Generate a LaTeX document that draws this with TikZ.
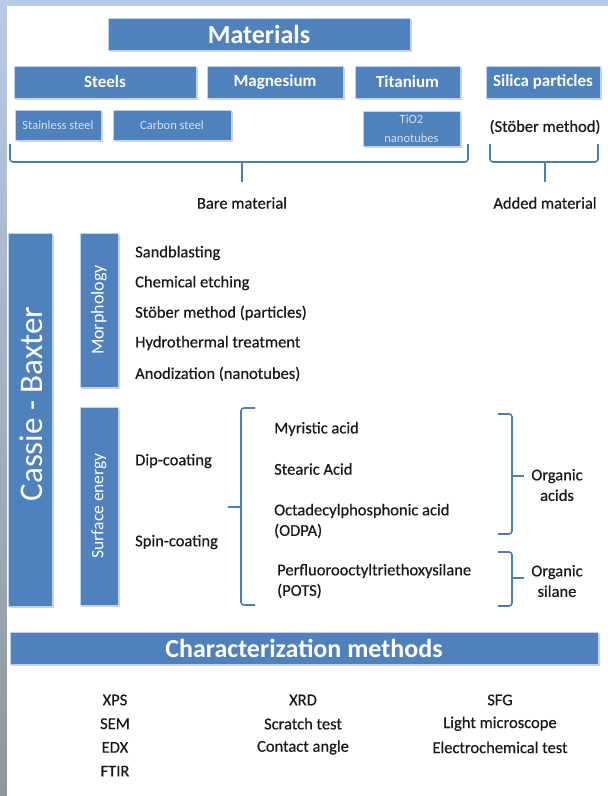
\documentclass[tikz,border=0pt]{standalone}
\usepackage{fontspec}
\setmainfont{Carlito}
\newfontfamily\semifont{Carlito}[FakeBold=0.45]
\usetikzlibrary{shadows}
\definecolor{boxblue}{HTML}{4F81BD}
\definecolor{brblue}{HTML}{4A7EBB}
\definecolor{frameblue}{HTML}{B9CAE6}
\definecolor{framegray}{HTML}{8E979E}
\definecolor{fadetext}{HTML}{D5E0EE}
\begin{document}
\begin{tikzpicture}[x=1pt, y=-1pt,
        BX/.style = {draw=white!65!boxblue, line width=0.8pt, fill=boxblue,
                     text=white, inner sep=0pt, align=center,
                     font=\bfseries\fontsize{17}{20}\selectfont,
                     drop shadow={opacity=0.35, shadow xshift=1.5pt, shadow yshift=-2pt}},
        SB/.style = {BX, font=\fontsize{12.5}{14}\selectfont, text=fadetext},
        VT/.style = {rotate=90, text=white, inner sep=0pt},
        BR/.style = {draw=brblue, line width=1.6pt, rounded corners=3pt},
       txt/.style = {inner sep=0pt, text=black!90, font=\semifont\fontsize{16.5}{20.5}\selectfont},
        IT/.style = {txt, anchor=west, align=left}
                                ]
        % frame
        \useasboundingbox (0,0) rectangle (608,796);
        \fill[frameblue] (0,0) rectangle (608,796);
        \shade[top color=frameblue, bottom color=framegray] (0,0) rectangle (7,796);
        \fill[white] (7,6) rectangle (608,796);

        % materials
        \node[BX, minimum width=302pt, minimum height=32pt,
              font=\bfseries\fontsize{26}{28}\selectfont] (mat) at (259,34) {Materials};
        \node[BX, minimum width=182pt, minimum height=32pt] (steel) at (105,82) {Steels};
        \node[BX, minimum width=136pt, minimum height=32pt] (mg) at (275,82) {Magnesium};
        \node[BX, minimum width=105pt, minimum height=32pt] (ti) at (407.5,82) {Titanium};
        \node[BX, minimum width=114pt, minimum height=32pt] (si) at (543,82) {Silica particles};
        \node[SB, minimum width=86pt, minimum height=30pt] (ss) at (58,125) {Stainless steel};
        \node[SB, minimum width=118pt, minimum height=30pt] (cs) at (172,125) {Carbon steel};
        \node[SB, minimum width=97pt, minimum height=35pt,
              font=\fontsize{12.5}{19}\selectfont] (tio) at (411.5,128.5) {TiO2\\nanotubes};
        \node[txt] (stober) at (545,127) {(Stöber method)};

        % braces
        \node[txt] (bare) at (242,203) {Bare material};
        \node[txt] (added) at (545,203) {Added material};
        \draw[BR] (10,144) -- (10,162) -- (468,162) -- (468,144);
        \draw[BR] (242,162) -- (242,182) coordinate (bt);
        \draw[BR] (490,144) -- (490,162) -- (598,162) -- (598,144);
        \draw[BR] (545,162) -- (545,182) coordinate (at);

        % Cassie - Baxter
        \node[BX, minimum width=44pt, minimum height=373pt] (cb) at (30,419.5) {};
        \node[VT, font=\fontsize{33}{35}\selectfont] (cbt) at (31,404) {Cassie - Baxter};
        \node[BX, minimum width=38pt, minimum height=154pt] (mor) at (99,310) {};
        \node[VT, font=\fontsize{18}{20}\selectfont] (mort) at (mor) {Morphology};
        \node[BX, minimum width=38pt, minimum height=198pt] (se) at (99,506) {};
        \node[VT, font=\fontsize{17.5}{20}\selectfont] (set) at (se) {Surface energy};

        % morphology
        \node[IT] (m1) at (135,253) {Sandblasting};
        \node[IT] (m2) at (135,283) {Chemical etching};
        \node[IT] (m3) at (135,313) {Stöber method (particles)};
        \node[IT] (m4) at (135,343) {Hydrothermal treatment};
        \node[IT] (m5) at (135,374) {Anodization (nanotubes)};

        % surface energy
        \node[IT] (dip) at (135,461) {Dip-coating};
        \node[IT] (spin) at (135,542) {Spin-coating};
        \draw[BR] (255,408) -- (241,408) -- (241,605) -- (255,605);
        \draw[BR] (241,507) -- (228,507);
        \node[IT] (myr) at (274,429) {Myristic acid};
        \node[IT] (ste) at (274,469) {Stearic Acid};
        \node[IT] (odpa) at (274,521) {Octadecylphosphonic acid\\(ODPA)};
        \node[IT] (pots) at (277,581) {Perfluorooctyltriethoxysilane\\(POTS)};
        \draw[BR] (498,414) -- (512,414) -- (512,534) -- (498,534);
        \draw[BR] (512,476) -- (524,476);
        \draw[BR] (498,552) -- (512,552) -- (512,606) -- (498,606);
        \draw[BR] (512,578) -- (524,578);
        \node[txt, align=center] (oac) at (557,485) {Organic\\acids};
        \node[txt, align=center] (osi) at (557,581) {Organic\\silane};

        % characterization
        \node[BX, minimum width=588pt, minimum height=32pt,
              font=\bfseries\fontsize{26}{28}\selectfont] (cm) at (304,648) {Characterization methods};
        \foreach \t [count=\i] in {XPS, SEM, EDX, FTIR}
            \node[txt] (ca\i) at (115,{700+23.7*(\i-1)}) {\t};
        \foreach \t [count=\i] in {XRD, Scratch test, Contact angle}
            \node[txt] (cb\i) at (303,{700+23.7*(\i-1)}) {\t};
        \foreach \t [count=\i] in {SFG, Light microscope, Electrochemical test}
            \node[txt] (cc\i) at (500,{700+23.7*(\i-1)}) {\t};

    \end{tikzpicture}
\end{document}
